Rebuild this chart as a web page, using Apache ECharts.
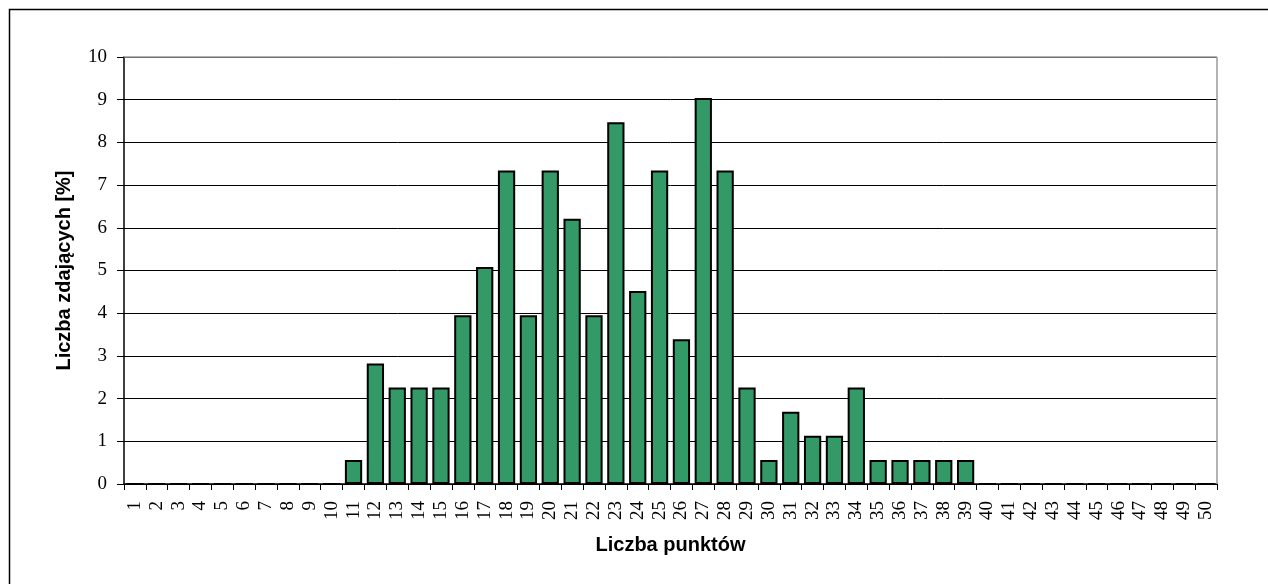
<!DOCTYPE html>
<html><head><meta charset="utf-8">
<script src="https://cdn.jsdelivr.net/npm/echarts@6/dist/echarts.min.js"></script>
<style>html,body{margin:0;padding:0;background:#fff}#c{width:1268px;height:584px}</style>
</head><body><div id="c"></div>
<script>
const categories = [];
for (let i = 1; i <= 50; i++) categories.push(String(i));
const values = [
  0,0,0,0,0,0,0,0,0,0,
  0.56,2.82,2.26,2.26,2.26,3.95,5.08,7.34,3.95,7.34,
  6.21,3.95,8.47,4.52,7.34,3.39,9.04,7.34,2.26,0.56,
  1.69,1.13,1.13,2.26,0.56,0.56,0.56,0.56,0.56,0,
  0,0,0,0,0,0,0,0,0,0
];
const yTicks = [0,1,2,3,4,5,6,7,8,9,10];
const xTitle = 'Liczba punktów';
const yTitle = 'Liczba zdających [%]';

const chart = echarts.init(document.getElementById('c'), null, {renderer:'canvas'});
chart.setOption({
  animation: false,
  backgroundColor: '#fff',
  graphic: [{
    type: 'rect', left: 7, top: 7, z: 100, silent: true,
    shape: {width: 1400, height: 700},
    style: {fill: 'none', stroke: '#000', lineWidth: 1.5}
  },{
    type:'line', z: 1, silent:true,
    shape:{x1:124,y1:57,x2:1217,y2:57},
    style:{stroke:'#9a9a9a',lineWidth:1.5}
  },{
    type:'line', z: 1, silent:true,
    shape:{x1:1217,y1:57,x2:1217,y2:484},
    style:{stroke:'#9a9a9a',lineWidth:1.5}
  }],
  grid: {left: 124, top: 57, width: 1093, height: 427, containLabel: false},
  xAxis: {
    type: 'category',
    data: categories,
    boundaryGap: true,
    name: xTitle,
    nameLocation: 'middle',
    nameGap: 51,
    nameTextStyle: {fontFamily: 'Liberation Sans', fontWeight: 'bold', fontSize: 20, color: '#000'},
    axisLine: {show: true, lineStyle: {color: '#000', width: 1.5}},
    axisTick: {show: true, alignWithLabel: false, length: 6, lineStyle: {color: '#000', width: 1}},
    axisLabel: {rotate: 90, interval: 0, fontFamily: 'Liberation Serif', fontSize: 19, color: '#000', margin: 17},
    splitLine: {show: false}
  },
  yAxis: {
    type: 'value',
    min: 0, max: 10, interval: 1,
    name: yTitle,
    nameLocation: 'middle',
    nameRotate: 90,
    nameGap: 50,
    nameTextStyle: {fontFamily: 'Liberation Sans', fontWeight: 'bold', fontSize: 20, color: '#000'},
    axisLine: {show: true, lineStyle: {color: '#000', width: 1.5}},
    axisTick: {show: true, length: 7, lineStyle: {color: '#000', width: 1}},
    axisLabel: {fontFamily: 'Liberation Serif', fontSize: 19, color: '#000', margin: 17,
      formatter: v => yTicks.indexOf(v) >= 0 ? String(v) : ''},
    splitLine: {show: true, lineStyle: {color: '#000', width: 1}}
  },
  series: [{
    type: 'bar',
    data: values,
    barCategoryGap: '21%',
    itemStyle: {color: '#339966', borderColor: '#000', borderWidth: 2},
    emphasis: {disabled: true}
  }]
});
</script></body></html>
